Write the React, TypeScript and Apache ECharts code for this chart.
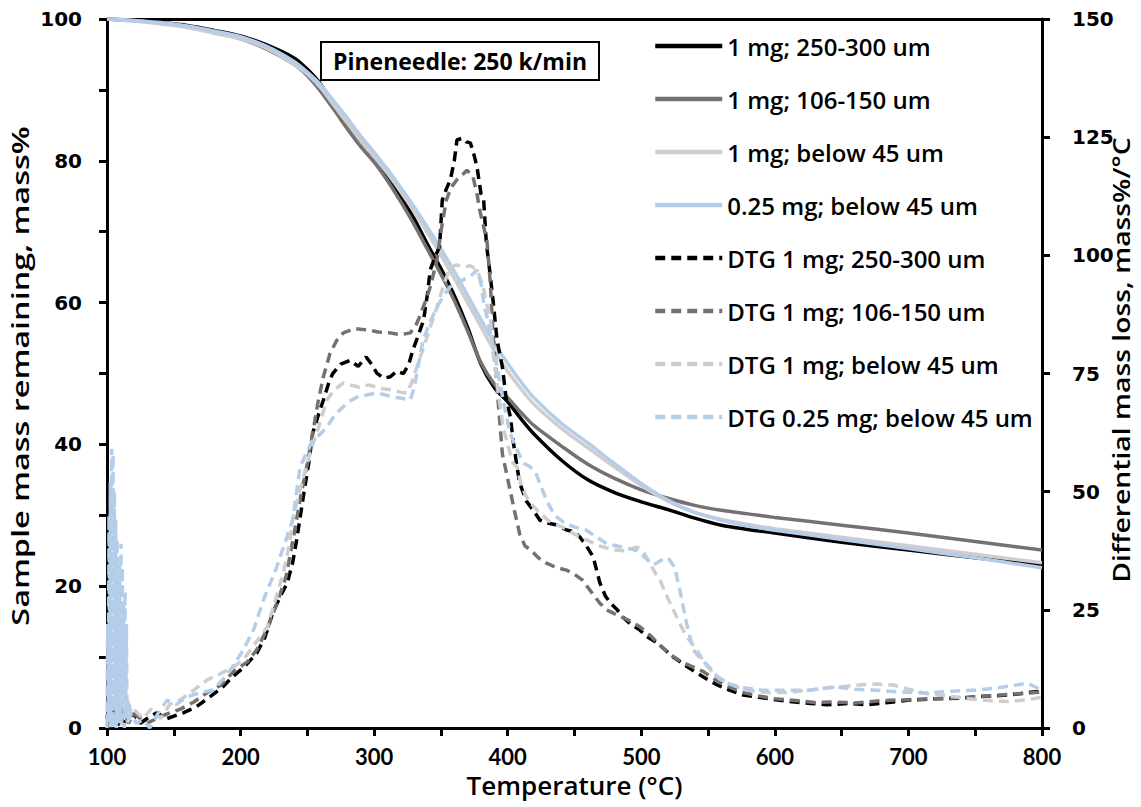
import React, { useEffect, useRef } from "react";
import * as echarts from "echarts";

// ---- X axis / ticks ----
const xMin = 100;
const xMax = 800;
const leftMax = 100;
const rightMax = 150;

// ---- TG curves (left axis, mass %) ----
const tgT = [100, 120, 140, 160, 180, 200, 220, 240, 250, 260, 270, 280, 290, 300, 310, 320, 330, 340, 350, 360, 370, 380, 390, 400, 410, 420, 440, 460, 480, 500, 520, 540, 560, 580, 600, 650, 700, 750, 800];
const tgBlack = [100, 99.8, 99.5, 99.1, 98.4, 97.6, 96.3, 94.5, 92.9, 90.8, 87.8, 85.2, 82.8, 80.6, 78.0, 75.0, 71.8, 68.2, 64.8, 61.0, 56.5, 51.3, 48.0, 46.0, 43.6, 41.4, 37.8, 35.0, 33.2, 31.9, 30.8, 29.6, 28.6, 28.0, 27.5, 26.2, 25.1, 24.0, 23.0];
const tgGrey = [100, 99.8, 99.4, 98.9, 98.1, 97.2, 95.7, 93.6, 92.0, 89.8, 87.2, 84.5, 82.0, 79.8, 77.2, 74.2, 71.0, 67.5, 64.0, 60.3, 56.0, 51.5, 48.5, 46.6, 44.5, 42.6, 39.8, 37.2, 35.2, 33.6, 32.4, 31.4, 30.7, 30.2, 29.7, 28.6, 27.5, 26.3, 25.1];
const tgLight = [100, 99.7, 99.3, 98.8, 98.0, 97.2, 95.8, 93.6, 92.2, 90.3, 87.8, 85.3, 82.8, 80.6, 78.2, 75.6, 72.8, 69.8, 66.7, 63.4, 60.0, 56.6, 53.2, 50.3, 47.8, 45.6, 42.3, 39.5, 36.8, 34.2, 32.0, 30.4, 29.4, 28.7, 28.1, 26.9, 25.7, 24.5, 23.3];
const tgBlue = [100, 99.8, 99.5, 99.0, 98.3, 97.5, 96.1, 94.0, 92.5, 90.7, 88.4, 86.0, 83.5, 81.2, 78.8, 76.2, 73.5, 70.6, 67.6, 64.4, 61.0, 57.6, 54.3, 51.4, 48.8, 46.5, 43.0, 40.2, 37.3, 34.5, 32.1, 30.4, 29.3, 28.5, 27.9, 26.6, 25.3, 24.0, 22.6];

// ---- DTG curves (right axis, mass%/°C) ----
const dtgBlackT = [100, 102, 104, 106, 108, 110, 112, 115, 120, 125, 130, 137, 145, 157, 167, 177, 186, 194, 203, 212, 218, 224, 230, 235, 239, 242, 247, 251, 254, 258, 262, 266, 269, 275, 282, 288, 294, 298, 302, 307, 312, 317, 322, 326, 329, 333, 337, 340, 342, 346, 349, 351, 354, 357, 360, 362, 366, 369, 372, 375, 377, 380, 382, 384, 386, 389, 392, 396, 399, 402, 404, 407, 409, 414, 419, 424, 429, 436, 444, 450, 454, 459, 464, 469, 473, 477, 482, 486, 492, 499, 505, 512, 518, 524, 533, 542, 550, 557, 566, 576, 588, 602, 615, 627, 639, 655, 669, 685, 701, 720, 739, 757, 776, 793, 800];
const dtgBlackV = [2, 5, 1, 4, 0.5, 3, 1, 2, 3, 1, 2, 3.2, 2, 3.2, 4.5, 6.6, 8.5, 10.8, 13, 15.8, 19, 24.3, 28, 30.7, 35, 39.8, 49, 56, 62.4, 66, 69.4, 73, 75, 77, 77.8, 76.5, 78.5, 77, 75.1, 74, 74.3, 75.5, 75, 77, 80, 83, 86.3, 92, 96.9, 100, 101.8, 111.7, 114, 115.9, 120, 124.4, 124.8, 124, 123.8, 121, 118.7, 113, 111.7, 102.6, 98, 90.5, 82.1, 76.4, 69.4, 65.8, 60.9, 55.2, 51.8, 48, 46.1, 44, 43.4, 43, 41.9, 41.5, 40.4, 38.5, 36.2, 30.7, 28, 26.4, 25, 23.5, 22, 20.7, 19.2, 18, 16.5, 15, 13.2, 11.6, 10.2, 9.1, 8, 7, 6.5, 5.9, 5.5, 5.2, 4.9, 5.2, 4.9, 5.4, 5.9, 6.2, 6.3, 6.7, 7.0, 7.6, 7.8];

const dtgGreyT = [100, 103, 106, 109, 112, 116, 120, 125, 130, 137, 145, 155, 165, 175, 185, 195, 205, 212, 220, 228, 234, 240, 245, 250, 255, 258, 262, 267, 272, 277, 285, 295, 303, 312, 320, 327, 331, 334, 338, 342, 347, 350, 354, 358, 362, 366, 369.5, 374, 377, 379, 382, 384.5, 387, 389, 392, 394, 396, 399, 402, 405, 409, 413, 417, 423, 429, 436, 444, 450, 456, 462, 469, 474, 479, 489, 499, 507, 514, 522, 530, 538, 546, 555, 565, 575, 588, 600, 615, 630, 645, 660, 680, 700, 720, 740, 760, 780, 800];
const dtgGreyV = [3, 1, 5, 2, 4, 1, 3, 2, 1, 2, 3, 4, 5.5, 7.5, 9, 12, 14, 16.5, 21, 27, 32, 41, 49, 56, 64, 69, 74.3, 79.3, 82, 83.6, 84.5, 84.2, 83.8, 83.6, 83.2, 83.6, 85, 87, 90, 93.3, 99, 105, 111.7, 114.5, 116, 117, 118, 116.6, 113, 109.6, 106, 103, 94, 83.6, 72, 65, 58, 54, 50, 46, 41, 38.5, 37.7, 36, 34.9, 34, 33.4, 32.5, 31.3, 29, 26.4, 25, 24.3, 23, 21.4, 19.5, 17.5, 15.5, 14, 13, 12, 10.3, 8.8, 7.6, 6.8, 6.2, 5.8, 5.4, 5.5, 5.3, 5.8, 6.0, 6.2, 6.4, 6.8, 7.2, 7.6];

const dtgLightT = [100, 103, 106, 110, 115, 120, 127, 133, 140, 147, 155, 165, 175, 185, 195, 202, 210, 215, 220, 226, 232, 236, 239, 244, 250, 254, 257, 261, 264.7, 270, 277, 283, 289, 296, 302, 308, 314, 320, 324.6, 328, 332, 337, 342, 347, 351.6, 356.8, 362, 366.5, 372, 377, 381.7, 384, 387, 389, 393, 396.5, 401.7, 404, 407, 410, 414, 419, 424, 432, 441, 450, 459, 469, 479, 488, 497, 502, 506.5, 510, 514, 519, 524, 529, 534, 541.6, 548, 554, 564, 579, 595, 610, 625, 640, 652, 663.7, 676, 688.5, 700, 715, 730, 745, 760, 775, 790, 800];
const dtgLightV = [2, 4, 1, 3, 1, 4, 2, 4, 2, 5, 6, 8, 10.2, 11.5, 13, 14.4, 17.5, 19.5, 21.4, 27, 32.8, 38, 44, 50, 56, 60, 62.4, 66, 69.4, 71.5, 73, 72.5, 72.1, 72.6, 72.1, 71.7, 71.5, 71, 70.9, 73, 76.4, 80.5, 84.8, 89, 93.3, 97.5, 98, 97.5, 97.8, 96.9, 93.3, 90, 87, 79.3, 70.9, 63.7, 58.2, 56, 55.2, 51.5, 48.9, 47, 45.5, 43.5, 42.5, 41, 39.8, 38.5, 37.7, 37.5, 38.3, 37, 34.9, 33, 31.3, 28, 25, 22, 19.3, 16.5, 13.5, 11.6, 9.5, 8, 7.5, 7.5, 8, 8.5, 8.8, 9.1, 9.3, 9.1, 8.2, 7.2, 6.8, 6.2, 5.8, 5.6, 6.0, 6.5];

const dtgBlueT = [100, 100.5, 101, 101.5, 102, 102.5, 103, 103.5, 104, 104.5, 105, 105.5, 106, 106.5, 107, 107.5, 108, 108.5, 109, 109.5, 110, 110.5, 111, 111.5, 112, 112.5, 113, 113.5, 114, 114.5, 115, 116, 118, 122, 127, 132, 138, 145, 152, 160, 170, 179, 186, 193, 202, 210, 217, 222, 227, 233, 239, 244.5, 249, 254, 259, 264.7, 270, 274.4, 281, 287, 295, 302, 308, 314, 320, 327, 330, 332, 336.6, 342, 347, 352, 356.8, 362, 366.5, 372, 377, 380, 381.7, 387, 392, 396.5, 401.7, 407, 412, 417, 421, 424, 429, 435, 442, 450, 458, 466, 474, 482, 490, 497, 503, 509, 515, 520, 525, 529, 534, 539, 545, 551, 558, 564, 576, 590, 609, 626, 646, 660, 676, 695, 714, 732, 751, 770, 789, 800];
const dtgBlueV = [0, 22, 1, 45, 3, 52, 0, 59, 2, 58, 0, 50, 4, 44, 0, 40, 6, 30, 1, 36, 3, 39, 0, 34, 5, 26, 0, 29, 4, 22, 2, 6, 3, 1, 1.7, 0, 3, 5.9, 5, 6.6, 7.5, 8, 10, 12.5, 16.5, 21, 27, 30.5, 34, 39, 44, 55.2, 58, 60.9, 62, 63.7, 66, 67.3, 69, 70, 70.5, 70.9, 70.5, 70, 69.8, 69.4, 72, 75.1, 82.1, 86, 89, 91.5, 93.3, 94, 94.8, 95.5, 96.9, 94, 90.5, 83.6, 76.4, 69.4, 62.4, 58.8, 56, 55.2, 54, 51.8, 48.2, 45, 43.5, 42.5, 42, 40.5, 39, 38.5, 38, 37.5, 36, 34.5, 35.5, 36, 34, 29, 22, 16.5, 14.5, 12.9, 10.5, 9.5, 8.5, 8, 8, 8, 8.7, 8.2, 8, 7.6, 7.4, 7.8, 8, 8.6, 9.5, 8];

// ---- names ----
const seriesNames = [
  "1 mg; 250-300 um",
  "1 mg; 106-150 um",
  "1 mg; below 45 um",
  "0.25 mg; below 45 um",
  "DTG 1 mg; 250-300 um",
  "DTG 1 mg; 106-150 um",
  "DTG 1 mg; below 45 um",
  "DTG 0.25 mg; below 45 um",
];
const colors = ["#000000", "#767171", "#cfcdcd", "#b4cde9"];
const annotationText = "Pineneedle: 250 k/min";
const xTitle = "Temperature (°C)";
const leftTitle = "Sample mass remaining, mass%";
const rightTitle = "Differential mass loss, mass%/°C";

const zip = (xs: number[], ys: number[]) => xs.map((x, i) => [x, ys[i]]);

const OPEN = "'Open Sans', Lato, sans-serif";
const LATO = "Lato, 'Open Sans', sans-serif";
const WIDE = "'DejaVu Sans', Verdana, sans-serif";

export default function App() {
  const ref = useRef<HTMLDivElement>(null);
  useEffect(() => {
    document.body.style.margin = "0";
    if (!ref.current) return;
    const chart = echarts.init(ref.current, undefined, { renderer: "svg" });
    const tgSets = [tgBlack, tgGrey, tgLight, tgBlue];
    const dtgSets = [
      zip(dtgBlackT, dtgBlackV),
      zip(dtgGreyT, dtgGreyV),
      zip(dtgLightT, dtgLightV),
      zip(dtgBlueT, dtgBlueV),
    ];
    const series: any[] = [];
    tgSets.forEach((ys, i) => {
      series.push({
        name: seriesNames[i],
        type: "line",
        xAxisIndex: 0,
        yAxisIndex: 0,
        data: zip(tgT, ys),
        symbol: "none",
        smooth: 0.3,
        lineStyle: { color: colors[i], width: 3.5 },
        itemStyle: { color: colors[i] },
        z: 2,
      });
    });
    dtgSets.forEach((d, i) => {
      series.push({
        name: seriesNames[4 + i],
        type: "line",
        xAxisIndex: 0,
        yAxisIndex: 1,
        data: d,
        symbol: "none",
        lineStyle: { color: colors[i], width: 3.5, type: [10, 6] },
        itemStyle: { color: colors[i] },
        z: 3,
      });
    });
    const axisLine = { show: true, onZero: false, lineStyle: { color: "#000", width: 3 } };
    const yTickLabel = { color: "#000", fontFamily: WIDE, fontSize: 20, fontWeight: "bold" as const };
    const xTickLabel = { color: "#000", fontFamily: LATO, fontSize: 22, fontWeight: "bold" as const };
    const titleFont = `600 24px ${OPEN}`;
    chart.setOption({
      animation: false,
      backgroundColor: "#fff",
      grid: { left: 107, right: 99, top: 19, bottom: 79, containLabel: false, outerBoundsMode: "none" },
      legend: {
        orient: "vertical",
        left: 648,
        top: 29,
        itemWidth: 67,
        itemHeight: 14,
        itemGap: 29,
        data: seriesNames,
        itemStyle: { opacity: 0 },
        lineStyle: { width: 4.5 },
        textStyle: { color: "#000", fontFamily: OPEN, fontSize: 24, fontWeight: 600, lineHeight: 24, padding: [0, 0, 0, 0] },
      },
      xAxis: [
        {
          type: "value",
          min: xMin,
          max: xMax,
          interval: 50,
          position: "bottom",
          axisLine,
          axisTick: { show: true, length: 8, lineStyle: { color: "#000", width: 3 } },
          axisLabel: { ...xTickLabel, margin: 17, formatter: (v: number) => (v % 100 === 0 ? String(v) : "") },
          splitLine: { show: false },
          name: xTitle,
          nameLocation: "middle",
          nameGap: 44,
          nameTextStyle: { color: "#000", fontFamily: OPEN, fontSize: 26, fontWeight: 600 },
        },
        {
          type: "value",
          min: xMin,
          max: xMax,
          position: "top",
          axisLine,
          axisTick: { show: false },
          axisLabel: { show: false },
          splitLine: { show: false },
        },
      ],
      yAxis: [
        {
          type: "value",
          min: 0,
          max: leftMax,
          interval: 10,
          position: "left",
          axisLine,
          axisTick: { show: true, length: 8, lineStyle: { color: "#000", width: 3 } },
          axisLabel: { ...yTickLabel, margin: 25, formatter: (v: number) => (v % 20 === 0 ? String(v) : "") },
          splitLine: { show: false },
        },
        {
          type: "value",
          min: 0,
          max: rightMax,
          interval: 25,
          position: "right",
          axisLine,
          axisTick: { show: true, length: 8, lineStyle: { color: "#000", width: 3 } },
          axisLabel: { ...yTickLabel, margin: 30 },
          splitLine: { show: false },
        },
      ],
      graphic: [
        {
          type: "text",
          x: 20,
          y: 376,
          rotation: Math.PI / 2,
          scaleX: 1.35,
          style: { text: leftTitle, fill: "#000", font: titleFont, align: "center", verticalAlign: "middle" },
        },
        {
          type: "text",
          x: 1121,
          y: 360,
          rotation: Math.PI / 2,
          scaleX: 1.18,
          style: { text: rightTitle, fill: "#000", font: titleFont, align: "center", verticalAlign: "middle" },
        },
        {
          type: "group",
          left: 320,
          top: 41,
          z: 10,
          children: [
            { type: "rect", shape: { x: 0, y: 0, width: 278, height: 38 }, style: { fill: "#fff", stroke: "#000", lineWidth: 2 } },
            {
              type: "text",
              x: 139,
              y: 19,
              style: { text: annotationText, fill: "#000", font: `bold 23px ${OPEN}`, align: "center", verticalAlign: "middle" },
            },
          ],
        },
      ],
      series,
    });
    return () => chart.dispose();
  }, []);
  return <div ref={ref} style={{ width: 1141, height: 807 }} />;
}
